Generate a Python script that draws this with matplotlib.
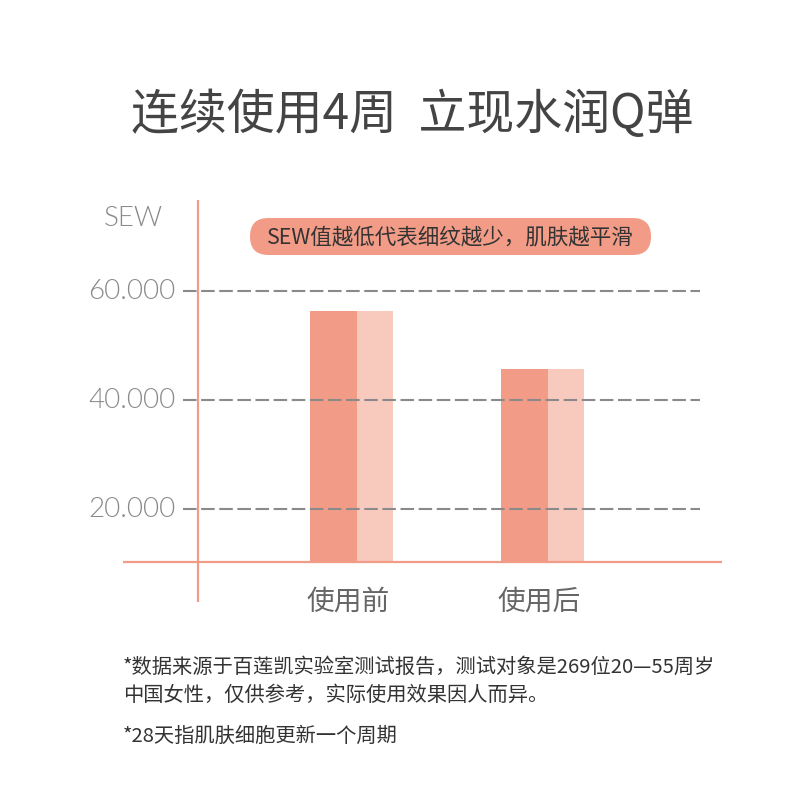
import matplotlib
matplotlib.use("Agg")
import matplotlib.pyplot as plt
from matplotlib.patches import FancyBboxPatch

plt.rcParams['font.family'] = ['Noto Sans CJK SC', 'DejaVu Sans']

# data
categories = ["使用前", "使用后"]
before_vals = [56.4, 45.6]   # darker bar
after_vals = [56.4, 45.6]    # lighter bar (same height)
grid_vals = [60, 40, 20]
grid_labels = ["60.000", "40.000", "20.000"]
baseline = 10.3

title = "连续使用4周  立现水润Q弹"
y_label = "SEW"
note = "SEW值越低代表细纹越少，肌肤越平滑"
foot1 = "*数据来源于百莲凯实验室测试报告，测试对象是269位20—55周岁"
foot2 = "中国女性，仅供参考，实际使用效果因人而异。"
foot3 = "*28天指肌肤细胞更新一个周期"

dark = "#F29C87"
light = "#F8CABE"
gray = "#8a8a8a"
txt = "#333333"

W, H = 800, 800
fig = plt.figure(figsize=(8, 8), dpi=100)

# axes box in pixels: x 123..722, y 200..602
ax = fig.add_axes([123 / W, 1 - 602 / H, (722 - 123) / W, (602 - 200) / H])
ax.set_xlim(-1.196, 1.94)
ax.set_ylim(2.94, 76.7)
ax.axis("off")

x = range(len(categories))
ax.bar([i - 0.217 for i in x], [v - baseline for v in before_vals], width=0.246,
       bottom=baseline, align="edge", color=dark, zorder=2)
ax.bar([i + 0.029 for i in x], [v - baseline for v in after_vals], width=0.188,
       bottom=baseline, align="edge", color=light, zorder=2)

# dashed grid over the bars
for g, lab in zip(grid_vals, grid_labels):
    ax.plot([-0.882, 1.825], [g, g], color=gray, lw=1.5, dashes=(6.5, 2.2), zorder=3)
    ax.text(-0.92, g, lab, ha="right", va="center", fontsize=20, color=gray,
            family=["Lato", "DejaVu Sans"], fontweight=300)

# axes lines
ax.axhline(baseline, color=dark, lw=1.6, zorder=4)
ax.axvline(-0.804, color=dark, lw=1.6, zorder=4)

for i, c in zip(x, categories):
    ax.text(i - 0.02, 0.0, c, ha="center", va="center", fontsize=20, color="#666666",
            transform=ax.get_xaxis_transform(), clip_on=False)

fig.text(133 / W, 1 - 219 / H, y_label, ha="center", va="center", fontsize=20,
         color=gray, family=["Lato", "DejaVu Sans"], fontweight=300)

# pill note
pill = FancyBboxPatch((250 / W, 1 - 255 / H), (651 - 250) / W, (255 - 218) / H,
                      boxstyle="round,pad=0,rounding_size=0.023", transform=fig.transFigure,
                      facecolor=dark, edgecolor="none")
fig.patches.append(pill)
fig.text(450 / W, 1 - 237 / H, note, ha="center", va="center", fontsize=15.5, color=txt)

fig.text(412 / W, 1 - 115 / H, title, ha="center", va="center", fontsize=34.5,
         color="#444444", fontweight="light")

fig.text(123 / W, 1 - 667 / H, foot1, ha="left", va="center", fontsize=14.6, color=txt)
fig.text(123 / W, 1 - 695 / H, foot2, ha="left", va="center", fontsize=14.6, color=txt)
fig.text(123 / W, 1 - 736 / H, foot3, ha="left", va="center", fontsize=14.6, color=txt)

fig.savefig("out.png", dpi=100, facecolor="white")
